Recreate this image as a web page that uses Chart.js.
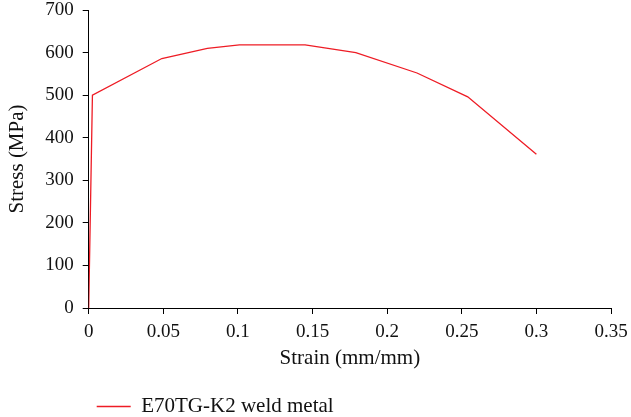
<!DOCTYPE html>
<html>
<head>
<meta charset="utf-8">
<script src="https://cdn.jsdelivr.net/npm/chart.js@4/dist/chart.umd.min.js"></script>
<style>
  html, body { margin: 0; padding: 0; background: #fff; }
  #wrap { width: 631px; height: 417px; }
</style>
</head>
<body>
<div id="wrap"><canvas id="c" width="631" height="417"></canvas></div>
<script>
// Engineering stress–strain curve of the weld metal
const strain = [0, 0.0025, 0.049, 0.0795, 0.101, 0.145, 0.179, 0.220, 0.254, 0.300];
const stress = [0, 500, 586, 610, 618, 618, 600, 552, 496, 361];

const xTickValues = [0, 0.05, 0.1, 0.15, 0.2, 0.25, 0.3, 0.35];
const xTickLabels = ['0', '0.05', '0.1', '0.15', '0.2', '0.25', '0.3', '0.35'];
const yTickValues = [0, 100, 200, 300, 400, 500, 600, 700];
const yTickLabels = ['0', '100', '200', '300', '400', '500', '600', '700'];

const seriesName = 'E70TG-K2 weld metal';
const xTitle = 'Strain (mm/mm)';
const yTitle = 'Stress (MPa)';

const lineColor = '#ee1c25';
const serif = "'Liberation Serif', 'Times New Roman', serif";

const points = strain.map((x, i) => ({ x, y: stress[i] }));

function labelFor(values, labels, v) {
  const i = values.findIndex(t => Math.abs(t - v) < 1e-9);
  return i >= 0 ? labels[i] : '';
}

new Chart(document.getElementById('c'), {
  type: 'line',
  data: {
    datasets: [{
      label: seriesName,
      data: points,
      borderColor: lineColor,
      backgroundColor: lineColor,
      borderWidth: 1.3,
      pointRadius: 0,
      pointHoverRadius: 0,
      tension: 0,
      fill: false,
      pointStyle: 'line'
    }]
  },
  options: {
    responsive: false,
    animation: false,
    events: [],
    layout: { padding: { left: 5, right: 20, top: 0, bottom: -10 } },
    plugins: {
      tooltip: { enabled: false },
      legend: {
        display: true,
        position: 'bottom',
        align: 'start',
        fullSize: false,
        labels: {
          usePointStyle: true,
          pointStyle: 'line',
          pointStyleWidth: 34,
          boxHeight: 21,
          padding: 8,
          color: '#111',
          font: { family: serif, size: 21 }
        }
      }
    },
    scales: {
      x: {
        type: 'linear',
        min: 0,
        max: 0.35,
        afterBuildTicks: axis => { axis.ticks = xTickValues.map(v => ({ value: v })); },
        afterFit: axis => { axis.paddingRight = 20; axis.height -= 5; },
        grid: { display: true, drawOnChartArea: false, drawTicks: true, tickLength: 6, color: '#000', lineWidth: 1 },
        border: { display: true, color: '#000', width: 1 },
        ticks: {
          color: '#111',
          padding: 7,
          maxRotation: 0,
          autoSkip: false,
          font: { family: serif, size: 19 },
          callback: v => labelFor(xTickValues, xTickLabels, v)
        },
        title: {
          display: true,
          text: xTitle,
          color: '#111',
          font: { family: serif, size: 21 },
          padding: { top: 0, bottom: 17 }
        }
      },
      y: {
        type: 'linear',
        min: 0,
        max: 700,
        afterBuildTicks: axis => { axis.ticks = yTickValues.map(v => ({ value: v })); },
        afterFit: axis => { axis.paddingTop = 10; },
        grid: { display: true, drawOnChartArea: false, drawTicks: true, tickLength: 6, color: '#000', lineWidth: 1 },
        border: { display: true, color: '#000', width: 1 },
        ticks: {
          color: '#111',
          padding: 9,
          autoSkip: false,
          font: { family: serif, size: 19 },
          callback: v => labelFor(yTickValues, yTickLabels, v)
        },
        title: {
          display: true,
          text: yTitle,
          color: '#111',
          font: { family: serif, size: 21 },
          padding: { top: 0, bottom: 6 }
        }
      }
    }
  }
});
</script>
</body>
</html>
